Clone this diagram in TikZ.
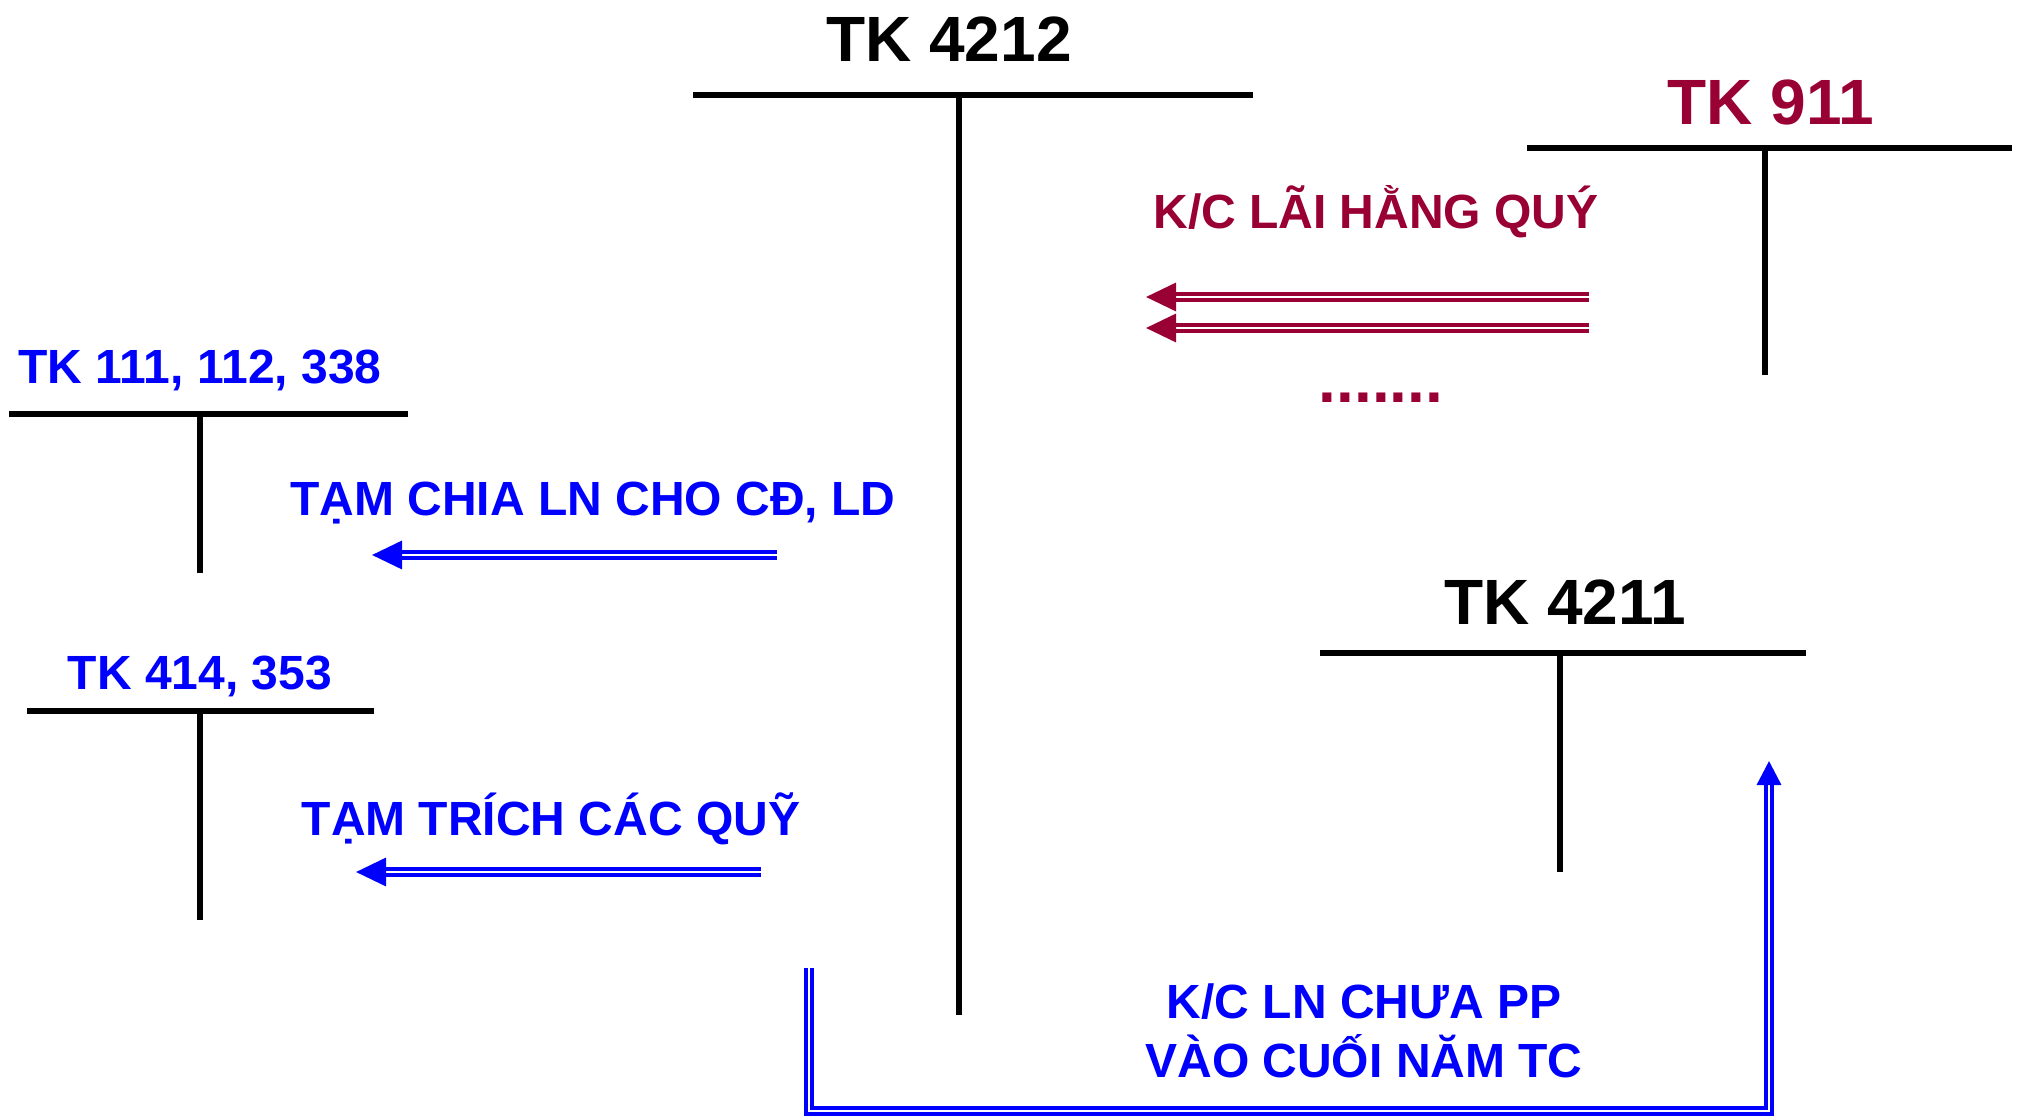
\documentclass[tikz,border=0pt]{standalone}
\usepackage{fontspec}
\setmainfont{Liberation Sans}
\usepackage{tikz}
\usetikzlibrary{arrows.meta}
\definecolor{accBlue}{HTML}{0000FF}
\definecolor{accRed}{HTML}{990033}

\begin{document}
\begin{tikzpicture}[
  x=0.5pt, y=-0.5pt,
  acctitle/.style={font=\bfseries\fontsize{32}{38}\selectfont, anchor=base, inner sep=0pt},
  acclabel/.style={font=\bfseries\fontsize{24}{29}\selectfont, anchor=base, inner sep=0pt, text=accBlue},
  tline/.style={line width=3pt},
  dblarrow/.style={double, line width=1.7pt, double distance=1.4pt, -{Triangle[length=15pt, width=14pt]}},
]
\useasboundingbox (0,0) rectangle (2023,1117);

% T-accounts
\node[acctitle] (tk4212) at (949,62) {TK 4212};
\coordinate (tk4212L) at (693,95);
\coordinate (tk4212R) at (1253,95);
\coordinate (tk4212T) at (959,95);
\coordinate (tk4212B) at (959,1015);
\draw[tline] (tk4212L) -- (tk4212R);
\draw[tline] (tk4212T) -- (tk4212B);

\node[acctitle, text=accRed] (tk911) at (1771,125) {TK 911};
\coordinate (tk911L) at (1527,148);
\coordinate (tk911R) at (2012,148);
\coordinate (tk911T) at (1765,148);
\coordinate (tk911B) at (1765,375);
\draw[tline] (tk911L) -- (tk911R);
\draw[tline] (tk911T) -- (tk911B);

\node[acclabel] (tk111) at (200,384) {TK 111, 112, 338};
\coordinate (tk111L) at (9,414);
\coordinate (tk111R) at (408,414);
\coordinate (tk111T) at (200,414);
\coordinate (tk111B) at (200,573);
\draw[tline] (tk111L) -- (tk111R);
\draw[tline] (tk111T) -- (tk111B);

\node[acclabel] (tk414) at (200,689) {TK 414, 353};
\coordinate (tk414L) at (27,711);
\coordinate (tk414R) at (374,711);
\coordinate (tk414T) at (200,711);
\coordinate (tk414B) at (200,920);
\draw[tline] (tk414L) -- (tk414R);
\draw[tline] (tk414T) -- (tk414B);

\node[acctitle] (tk4211) at (1565,624) {TK 4211};
\coordinate (tk4211L) at (1320,653);
\coordinate (tk4211R) at (1806,653);
\coordinate (tk4211T) at (1560,653);
\coordinate (tk4211B) at (1560,872);
\draw[tline] (tk4211L) -- (tk4211R);
\draw[tline] (tk4211T) -- (tk4211B);

% profit transfers from TK 911
\node[acclabel, text=accRed] (laiquy) at (1376,229) {K/C LÃI HẰNG QUÝ};
\coordinate (lai1a) at (1589,297);
\coordinate (lai1b) at (1146,297);
\coordinate (lai2a) at (1589,328);
\coordinate (lai2b) at (1146,328);
\draw[dblarrow, accRed] (lai1a) -- (lai1b);
\draw[dblarrow, accRed] (lai2a) -- (lai2b);
\node[acctitle, text=accRed] (dots) at (1381,402) {.......};

% temporary distributions
\node[acclabel] (chialn) at (593,515) {TẠM CHIA LN CHO CĐ, LD};
\coordinate (chiaA) at (777,555);
\coordinate (chiaB) at (372,555);
\draw[dblarrow, accBlue] (chiaA) -- (chiaB);

\node[acclabel] (trichquy) at (551,835) {TẠM TRÍCH CÁC QUỸ};
\coordinate (trichA) at (761,872);
\coordinate (trichB) at (356,872);
\draw[dblarrow, accBlue] (trichA) -- (trichB);

% year-end transfer to TK 4211
\node[acclabel] (kcln) at (1364,1018) {K/C LN CHƯA PP};
\node[acclabel] (kcnam) at (1364,1077) {VÀO CUỐI NĂM TC};
\coordinate (kcStart) at (809,968);
\coordinate (kcEnd) at (1769,761);
\draw[dblarrow, accBlue, -{Triangle[length=12pt, width=12pt]}] (kcStart) |- (1769,1111) -- (kcEnd);
\end{tikzpicture}
\end{document}
